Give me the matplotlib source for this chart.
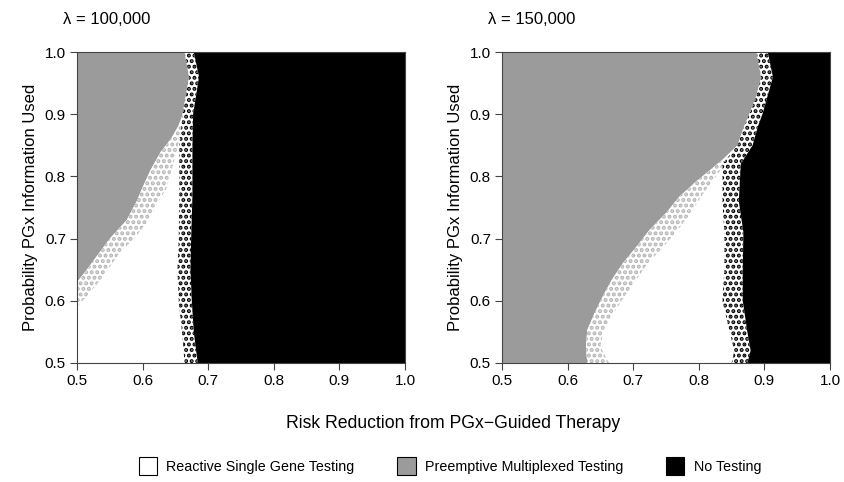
import numpy as np
import matplotlib
matplotlib.use("Agg")
import matplotlib.pyplot as plt
from matplotlib.patches import Patch

plt.rcParams['font.family'] = ['Liberation Sans', 'DejaVu Sans']
plt.rcParams['hatch.linewidth'] = 2.0

# ---------------- data ----------------
titles = ["λ = 100,000", "λ = 150,000"]
xticks = [0.5, 0.6, 0.7, 0.8, 0.9, 1.0]
yticks = [0.5, 0.6, 0.7, 0.8, 0.9, 1.0]
legend_labels = ["Reactive Single Gene Testing", "Preemptive Multiplexed Testing", "No Testing"]

# Panel 1 (lambda = 100,000): No-Testing boundary band (left / right edge)
p1_band_y   = [0.50, 0.55, 0.60, 0.65, 0.70, 0.77, 0.85, 0.90, 0.96, 1.00]
p1_black_in = [0.664, 0.660, 0.655, 0.653, 0.655, 0.656, 0.656, 0.661, 0.671, 0.664]
p1_black_out = [0.684, 0.678, 0.675, 0.673, 0.674, 0.676, 0.676, 0.677, 0.686, 0.678]
# Panel 1: Preemptive / Reactive boundary band
p1_gw_y   = [0.590, 0.610, 0.630, 0.650, 0.680, 0.700, 0.730, 0.760, 0.780, 0.810, 0.840, 0.860, 0.880]
p1_gw_in  = [0.500, 0.500, 0.500, 0.515, 0.536, 0.550, 0.576, 0.591, 0.599, 0.612, 0.628, 0.643, 0.654]
p1_gw_out = [0.500, 0.517, 0.533, 0.547, 0.567, 0.587, 0.610, 0.624, 0.636, 0.644, 0.652, 0.656, 0.659]

# Panel 2 (lambda = 150,000)
p2_band_y   = [0.50, 0.52, 0.55, 0.60, 0.65, 0.71, 0.76, 0.82, 0.85, 0.88, 0.90, 0.93, 0.96, 1.00]
p2_black_in = [0.850, 0.854, 0.847, 0.836, 0.839, 0.839, 0.836, 0.836, 0.859, 0.869, 0.877, 0.888, 0.895, 0.888]
p2_black_out = [0.874, 0.879, 0.874, 0.867, 0.867, 0.868, 0.861, 0.864, 0.882, 0.890, 0.897, 0.905, 0.913, 0.905]
p2_gw_y   = [0.500, 0.526, 0.553, 0.580, 0.606, 0.633, 0.660, 0.687, 0.714, 0.741, 0.767, 0.790, 0.810, 0.825]
p2_gw_in  = [0.630, 0.628, 0.630, 0.641, 0.653, 0.667, 0.684, 0.705, 0.725, 0.750, 0.770, 0.794, 0.817, 0.834]
p2_gw_out = [0.663, 0.650, 0.655, 0.670, 0.686, 0.704, 0.722, 0.746, 0.768, 0.788, 0.803, 0.819, 0.833, 0.840]

panels = [
    (p1_band_y, p1_black_in, p1_black_out, p1_gw_y, p1_gw_in, p1_gw_out),
    (p2_band_y, p2_black_in, p2_black_out, p2_gw_y, p2_gw_in, p2_gw_out),
]

GRAY = '#9b9b9b'
SPINE = '#444444'

fig = plt.figure(figsize=(8.45, 4.82), dpi=100)
axes = [fig.add_axes([77 / 845, 119 / 482, 328 / 845, 311 / 482]),
        fig.add_axes([502 / 845, 119 / 482, 328 / 845, 311 / 482])]

for ax, title, (by, bin_, bout, gy, gin, gout) in zip(axes, titles, panels):
    by = np.asarray(by); bin_ = np.asarray(bin_); bout = np.asarray(bout)
    gy = np.asarray(gy); gin = np.asarray(gin); gout = np.asarray(gout)
    ax.set_facecolor('white')
    # gray region: left of the preemptive boundary, then up to the no-testing band
    above = by > gy[-1]
    edge_y = np.concatenate([gy, by[above]])
    edge_x = np.concatenate([gin, bin_[above]])
    ax.fill_betweenx(edge_y, 0.5, edge_x, facecolor=GRAY, edgecolor='none', lw=0, zorder=1)
    # speckled transition between preemptive and reactive
    ax.fill_betweenx(gy, gin, gout, facecolor='white', edgecolor='#b5b5b5', hatch='...',
                     lw=0, zorder=2)
    # speckled transition toward no testing
    ax.fill_betweenx(by, bin_, bout, facecolor='white', edgecolor='black', hatch='...',
                     lw=0, zorder=3)
    # no testing region
    ax.fill_betweenx(by, bout, 1.0, facecolor='black', edgecolor='none', lw=0, zorder=4)

    ax.set_xlim(0.5, 1.0)
    ax.set_ylim(0.5, 1.0)
    ax.set_xticks(xticks)
    ax.set_yticks(yticks)
    ax.set_xticklabels([f"{v:.1f}" for v in xticks], fontsize=11)
    ax.set_yticklabels([f"{v:.1f}" for v in yticks], fontsize=11)
    ax.tick_params(direction='out', length=5, width=0.8, color=SPINE, pad=3)
    for s in ax.spines.values():
        s.set_color(SPINE)
        s.set_linewidth(0.8)
        s.set_zorder(6)
    ax.set_ylabel("Probability PGx Information Used", fontsize=12, labelpad=5)
    ax.text(-0.043, 1.103, title, transform=ax.transAxes, ha='left', va='center', fontsize=12)

fig.text(453 / 845, 1 - 424 / 482, "Risk Reduction from PGx\u2212Guided Therapy",
         ha='center', va='center', fontsize=12.7)

handles = [Patch(facecolor='white', edgecolor='black', lw=0.8),
           Patch(facecolor=GRAY, edgecolor='black', lw=0.8),
           Patch(facecolor='black', edgecolor='black', lw=0.8)]
fig.legend(handles, legend_labels, loc='center', bbox_to_anchor=(450 / 845, 1 - 466 / 482),
           ncol=3, frameon=False, fontsize=10.3, handlelength=1.27, handleheight=1.55,
           handletextpad=0.65, columnspacing=3.0)

fig.savefig("out.png", dpi=100)
